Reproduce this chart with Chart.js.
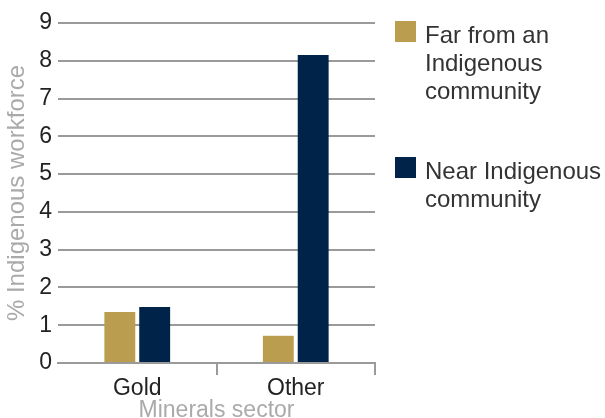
<!DOCTYPE html>
<html>
<head>
<meta charset="utf-8">
<script src="https://cdn.jsdelivr.net/npm/chart.js@4"></script>
<style>
    body { margin: 0; background: #fff; }
    #wrap { position: relative; width: 605px; height: 418px; }
    #legend { position: absolute; left: 395px; top: 21px; font-family: "Liberation Sans", Arial, sans-serif; font-size: 24px; color: #333; }
    .item { position: relative; padding-left: 30px; line-height: 28px; white-space: nowrap; }
    .box { position: absolute; left: 0; top: 0; width: 21px; height: 21px; }
</style>
</head>
<body>
<div id="wrap">
    <canvas id="barChart" width="605" height="418"></canvas>
    <div id="legend"></div>
</div>
<script>
// data
var categories = ["Gold", "Other"];
var farValues = [1.35, 0.72];
var nearValues = [1.48, 8.15];
var seriesNames = [["Far from an", "Indigenous", "community"], ["Near Indigenous", "community"]];
var seriesColors = ["#BA9D4F", "#00234A"];

var font = "'Liberation Sans', Arial, sans-serif";

// legend (html, next to the chart)
var legendDiv = document.getElementById("legend");
seriesNames.forEach(function (lines, i) {
    var item = document.createElement("div");
    item.className = "item";
    if (i > 0) item.style.marginTop = "52px";
    item.innerHTML = '<span class="box" style="background:' + seriesColors[i] + '"></span>' + lines.join("<br>");
    legendDiv.appendChild(item);
});

var barCtx = document.getElementById("barChart").getContext("2d");
var barChart = new Chart(barCtx, {
    type: "bar",
    data: {
        labels: categories,
        datasets: [{
            label: seriesNames[0].join(" "),
            data: farValues,
            backgroundColor: seriesColors[0],
            categoryPercentage: 0.44,
            barPercentage: 0.886
        }, {
            label: seriesNames[1].join(" "),
            data: nearValues,
            backgroundColor: seriesColors[1],
            categoryPercentage: 0.44,
            barPercentage: 0.886
        }]
    },
    options: {
        responsive: false,
        animation: false,
        layout: { padding: { top: 23, right: 230, left: 0, bottom: 0 } },
        plugins: {
            legend: { display: false },
            tooltip: { enabled: false }
        },
        scales: {
            x: {
                afterFit: function (scale) { scale.height = 55; },
                grid: {
                    drawOnChartArea: false,
                    drawTicks: true,
                    tickLength: 12,
                    lineWidth: 2,
                    color: function (c) { return c.index === 0 ? "rgba(0,0,0,0)" : "#9a9a9a"; }
                },
                border: { display: true, color: "#9a9a9a", width: 2 },
                ticks: { color: "#222", padding: 0, font: { family: font, size: 23 } },
                title: {
                    display: true,
                    text: "Minerals sector",
                    color: "#aaa",
                    padding: { top: 0, bottom: -6 },
                    font: { family: font, size: 23 }
                }
            },
            y: {
                min: 0,
                max: 9,
                afterFit: function (scale) { scale.width = 58; },
                grid: { drawTicks: false, lineWidth: 2, color: "#9a9a9a" },
                border: { display: false },
                ticks: { stepSize: 1, color: "#222", padding: 6, font: { family: font, size: 23 } },
                title: {
                    display: true,
                    text: "% Indigenous workforce",
                    color: "#aaa",
                    padding: { top: 3, bottom: 0 },
                    font: { family: font, size: 24 }
                }
            }
        }
    }
});
</script>
</body>
</html>
